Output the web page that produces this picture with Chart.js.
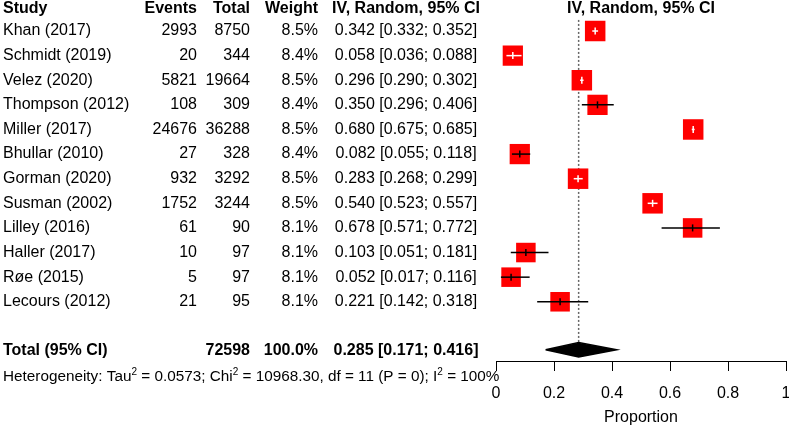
<!DOCTYPE html>
<html>
<head>
<meta charset="utf-8">
<script src="https://cdn.jsdelivr.net/npm/chart.js@4/dist/chart.umd.min.js"></script>
<style>
  html, body { margin: 0; padding: 0; background: #fff; }
  canvas { display: block; }
</style>
</head>
<body>
<canvas id="forest" width="789" height="429"></canvas>
<script>
// study data
const studies = ['Khan (2017)', 'Schmidt (2019)', 'Velez (2020)', 'Thompson (2012)', 'Miller (2017)', 'Bhullar (2010)',
                 'Gorman (2020)', 'Susman (2002)', 'Lilley (2016)', 'Haller (2017)', 'Røe (2015)', 'Lecours (2012)'];
const events = [2993, 20, 5821, 108, 24676, 27, 932, 1752, 61, 10, 5, 21];
const totals = [8750, 344, 19664, 309, 36288, 328, 3292, 3244, 90, 97, 97, 95];
const weights = [8.5, 8.4, 8.5, 8.4, 8.5, 8.4, 8.5, 8.5, 8.1, 8.1, 8.1, 8.1];
const estimates = [0.342, 0.058, 0.296, 0.350, 0.680, 0.082, 0.283, 0.540, 0.678, 0.103, 0.052, 0.221];
const lower = [0.332, 0.036, 0.290, 0.296, 0.675, 0.055, 0.268, 0.523, 0.571, 0.051, 0.017, 0.142];
const upper = [0.352, 0.088, 0.302, 0.406, 0.685, 0.118, 0.299, 0.557, 0.772, 0.181, 0.116, 0.318];

// pooled result
const pooledEst = 0.285;
const pooledLower = 0.171;
const pooledUpper = 0.416;
const pooledTotal = 72598;
const pooledWeight = 100.0;

// heterogeneity
const tau2 = '0.0573';
const chi2 = '10968.30';
const hetDf = 11;
const hetP = 0;
const i2 = 100;

const xTicks = [0, 0.2, 0.4, 0.6, 0.8, 1];

const FONT = '"Liberation Sans", Arial, sans-serif';
Chart.defaults.font.family = FONT;

const totalRow = studies.length + 0.95;   // blank row, then the total
const diamondHalf = 0.29;

function boxSide(i) {
  return 20.5 * weights[i] / 8.5;
}

// CI lies within the square -> drawn white, like meta does
function ciInside(i, chart) {
  const xs = chart.scales.x;
  if (!xs) return false;
  const c = xs.getPixelForValue(estimates[i]);
  const half = boxSide(i) / 2;
  return xs.getPixelForValue(lower[i]) >= c - half && xs.getPixelForValue(upper[i]) <= c + half;
}

const ciSets = studies.map((s, i) => ({
  type: 'line',
  data: [{ x: lower[i], y: i }, { x: upper[i], y: i }],
  borderColor: ctx => ciInside(i, ctx.chart) ? '#ffffff' : '#000000',
  borderWidth: 1.5,
  pointRadius: 0,
  order: 1,
  clip: false
}));

const tableText = {
  id: 'tableText',
  afterDraw(chart) {
    const ctx = chart.ctx;
    const ys = chart.scales.y;
    const area = chart.chartArea;
    const rowY = v => ys.getPixelForValue(v);
    const colStudy = 3, colEvents = 197, colTotal = 250, colWeight = 318, colCi = 406;
    const ciText = (e, l, u) => e.toFixed(3) + ' [' + l.toFixed(3) + '; ' + u.toFixed(3) + ']';

    ctx.save();
    ctx.fillStyle = '#000';
    ctx.textBaseline = 'middle';

    // header
    const hy = rowY(-0.9);
    ctx.font = 'bold 16px ' + FONT;
    ctx.textAlign = 'left';
    ctx.fillText('Study', colStudy, hy);
    ctx.textAlign = 'right';
    ctx.fillText('Events', colEvents, hy);
    ctx.fillText('Total', colTotal, hy);
    ctx.fillText('Weight', colWeight, hy);
    ctx.textAlign = 'center';
    ctx.fillText('IV, Random, 95% CI', colCi, hy);
    ctx.fillText('IV, Random, 95% CI', (area.left + area.right) / 2, hy);

    // studies
    ctx.font = '16px ' + FONT;
    studies.forEach((s, i) => {
      const y = rowY(i);
      ctx.textAlign = 'left';
      ctx.fillText(s, colStudy, y);
      ctx.textAlign = 'right';
      ctx.fillText(String(events[i]), colEvents, y);
      ctx.fillText(String(totals[i]), colTotal, y);
      ctx.fillText(weights[i].toFixed(1) + '%', colWeight, y);
      ctx.textAlign = 'center';
      ctx.fillText(ciText(estimates[i], lower[i], upper[i]), colCi, y);
    });

    // total
    const ty = rowY(studies.length + 1);
    ctx.font = 'bold 16px ' + FONT;
    ctx.textAlign = 'left';
    ctx.fillText('Total (95% CI)', colStudy, ty);
    ctx.textAlign = 'right';
    ctx.fillText(String(pooledTotal), colTotal, ty);
    ctx.fillText(pooledWeight.toFixed(1) + '%', colWeight, ty);
    ctx.textAlign = 'center';
    ctx.fillText(ciText(pooledEst, pooledLower, pooledUpper), colCi, ty);

    // heterogeneity line with superscripts
    const hetY = rowY(studies.length + 2.05);
    const parts = [
      ['Heterogeneity: Tau', false], ['2', true], [' = ' + tau2 + '; Chi', false], ['2', true],
      [' = ' + chi2 + ', df = ' + hetDf + ' (P = ' + hetP + '); I', false], ['2', true], [' = ' + i2 + '%', false]
    ];
    let x = colStudy;
    ctx.textAlign = 'left';
    parts.forEach(([t, sup]) => {
      ctx.font = (sup ? '10px ' : '15.3px ') + FONT;
      ctx.fillText(t, x, sup ? hetY - 5 : hetY);
      x += ctx.measureText(t).width;
    });
    ctx.restore();
  }
};

new Chart(document.getElementById('forest'), {
  type: 'scatter',
  data: {
    datasets: [
      ...ciSets,
      {
        // point estimate ticks
        data: estimates.map((v, i) => ({ x: v, y: i })),
        pointStyle: 'line',
        rotation: 90,
        pointRadius: 3.5,
        pointBorderWidth: 1.5,
        pointBorderColor: ctx => ciInside(ctx.dataIndex, ctx.chart) ? '#ffffff' : '#000000',
        order: 0,
        clip: false
      },
      {
        // weighted squares
        data: estimates.map((v, i) => ({ x: v, y: i })),
        pointStyle: 'rect',
        pointRadius: ctx => boxSide(ctx.dataIndex) / 2 / Math.SQRT1_2,
        backgroundColor: '#ff0000',
        borderWidth: 0,
        order: 3,
        clip: false
      },
      {
        // pooled diamond
        type: 'line',
        data: [
          { x: pooledLower, y: totalRow }, { x: pooledEst, y: totalRow - diamondHalf },
          { x: pooledUpper, y: totalRow }, { x: pooledEst, y: totalRow + diamondHalf },
          { x: pooledLower, y: totalRow }
        ],
        borderColor: '#000',
        backgroundColor: '#000',
        borderWidth: 1.5,
        fill: 'shape',
        pointRadius: 0,
        tension: 0,
        order: 2,
        clip: false
      },
      {
        // dotted line at pooled estimate
        type: 'line',
        data: [{ x: pooledEst, y: -0.45 }, { x: pooledEst, y: totalRow - diamondHalf }],
        borderColor: '#666',
        borderWidth: 1.5,
        borderDash: [2, 2],
        pointRadius: 0,
        order: 4,
        clip: false
      }
    ]
  },
  options: {
    responsive: false,
    animation: false,
    devicePixelRatio: 1,
    layout: { autoPadding: false, padding: { left: 496, right: 3, top: 18.7, bottom: 0 } },
    plugins: {
      legend: { display: false },
      tooltip: { enabled: false }
    },
    scales: {
      x: {
        type: 'linear',
        min: 0,
        max: 1,
        afterBuildTicks: s => { s.ticks = xTicks.map(v => ({ value: v })); },
        afterFit: s => { s.height = 68; s.paddingLeft = 0; s.paddingRight = 0; },
        ticks: {
          font: { size: 16 },
          color: '#000',
          padding: 13,
          maxRotation: 0,
          callback: v => String(v)
        },
        grid: { drawOnChartArea: false, drawTicks: true, tickLength: 10, color: '#000', tickColor: '#000' },
        border: { display: true, color: '#000', width: 1 },
        title: { display: true, text: 'Proportion', color: '#000', font: { size: 16 }, padding: { top: 0, bottom: 2 } }
      },
      y: {
        type: 'linear',
        min: -0.5,
        max: 13.406,
        reverse: true,
        display: false
      }
    }
  },
  plugins: [tableText]
});
</script>
</body>
</html>
